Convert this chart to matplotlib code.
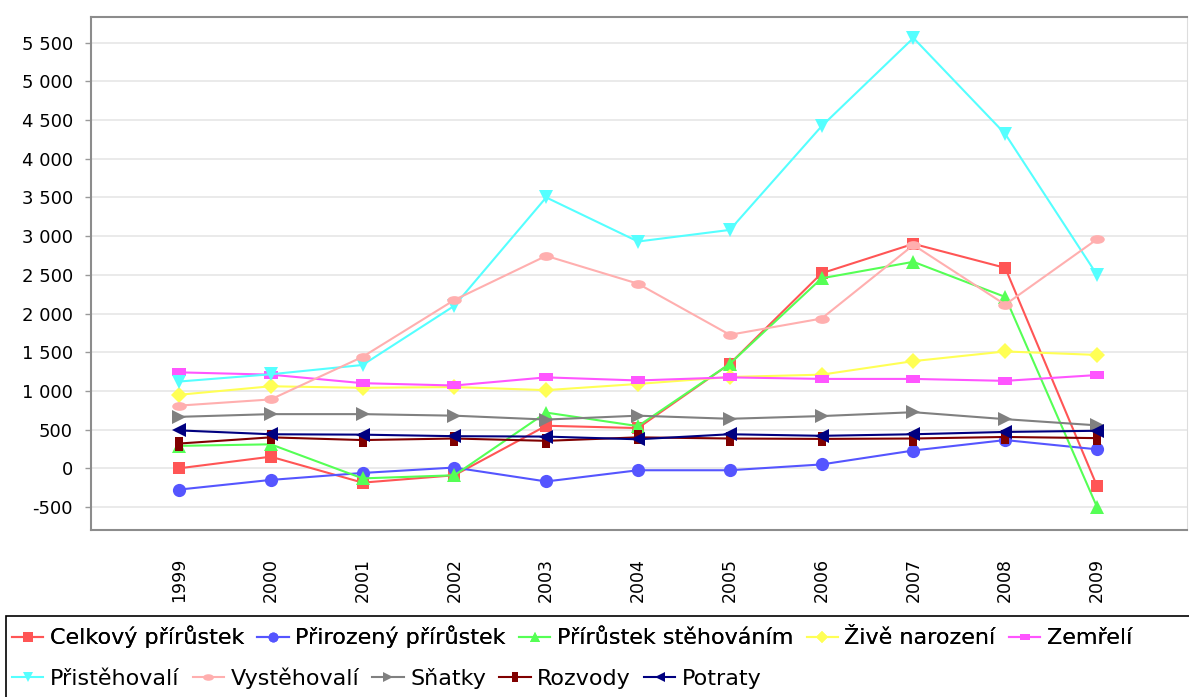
import numpy as np
import matplotlib.pyplot as plt
from matplotlib.path import Path
from matplotlib.transforms import Affine2D
from matplotlib.patches import Rectangle
from matplotlib.ticker import FuncFormatter, MultipleLocator

plt.rcParams["font.family"] = "DejaVu Sans"

years = ["1999", "2000", "2001", "2002", "2003", "2004", "2005", "2006", "2007", "2008", "2009"]

celkovy = [0, 150, -185, -90, 550, 520, 1350, 2520, 2900, 2590, -230]
prirozeny = [-275, -150, -60, 10, -170, -25, -25, 50, 230, 365, 245]
stehovanim = [290, 310, -130, -90, 720, 545, 1350, 2455, 2668, 2214, -500]
narozeni = [950, 1060, 1040, 1050, 1010, 1090, 1180, 1210, 1385, 1510, 1465]
zemreli = [1240, 1210, 1100, 1070, 1175, 1135, 1175, 1155, 1155, 1130, 1205]
pristehovali = [1121, 1215, 1335, 2100, 3500, 2930, 3080, 4420, 5560, 4320, 2500]
vystehovali = [810, 890, 1440, 2175, 2745, 2385, 1725, 1935, 2885, 2115, 2960]
snatky = [665, 700, 700, 680, 630, 680, 640, 675, 725, 635, 555]
rozvody = [320, 400, 365, 385, 355, 400, 385, 380, 385, 405, 390]
potraty = [490, 440, 435, 415, 410, 375, 440, 420, 440, 470, 485]

labels = ["Celkový přírůstek", "Přirozený přírůstek", "Přírůstek stěhováním",
          "Živě narození", "Zemřelí", "Přistěhovalí", "Vystěhovalí",
          "Sňatky", "Rozvody", "Potraty"]
series = [celkovy, prirozeny, stehovanim, narozeni, zemreli,
          pristehovali, vystehovali, snatky, rozvody, potraty]
colors = ["#ff5555", "#5555ff", "#55ff55", "#ffff55", "#ff55ff",
          "#55ffff", "#ffafaf", "#808080", "#800000", "#000080"]

# jfreechart-like shapes
hrect = [(-1, -0.5), (1, -0.5), (1, 0.5), (-1, 0.5), (-1, -0.5)]
vrect = [(-0.55, -1), (0.55, -1), (0.55, 1), (-0.55, 1), (-0.55, -1)]
ellipse = Affine2D().scale(1, 0.6).transform_path(Path.unit_circle())
markers = ["s", "o", "^", "D", hrect, "v", ellipse, ">", vrect, "<"]
msizes = [9, 9.5, 10, 8, 10.5, 10, 10.5, 10, 10.5, 10]

fig = plt.figure(figsize=(11.89, 6.97), dpi=100)
ax = fig.add_axes([91 / 1189, 1 - 530 / 697, (1187 - 91) / 1189, (530 - 17) / 697])

x = np.arange(len(years))
handles = []
for i, (lab, vals) in enumerate(zip(labels, series)):
    h, = ax.plot(x, vals, color=colors[i], lw=1.5, marker=markers[i],
                 markersize=msizes[i], markeredgewidth=0, label=lab, zorder=3 + i)
    handles.append(h)

ax.set_xlim(-0.958, 10.98)
ax.set_ylim(-797, 5831)
ax.set_xticks(x)
ax.set_xticklabels(years, rotation=90, fontsize=12.5)
ax.yaxis.set_major_locator(MultipleLocator(500))
ax.yaxis.set_major_formatter(FuncFormatter(lambda v, p: f"{int(round(v)):,}".replace(",", " ")))
ax.tick_params(axis="y", labelsize=13, length=4, width=1, color="#999999", pad=9)
ax.tick_params(axis="x", length=0, pad=20)
ax.grid(axis="y", color="#e6e6e6", lw=1.2)
ax.set_axisbelow(True)
for s in ["left", "bottom", "top"]:
    ax.spines[s].set_color("#8c8c8c")
    ax.spines[s].set_linewidth(1.5)
ax.spines["right"].set_color("#dddddd")

# legend box (flow layout, two rows)
fig.patches.append(Rectangle((6 / 1189, -0.05), 1.1, (697 - 616) / 697 + 0.05,
                             transform=fig.transFigure, fill=False, ec="black", lw=1.2))
kw = dict(loc="center left", ncol=5, frameon=False, fontsize=16, handlelength=1.4,
          handletextpad=0.3, columnspacing=0.6, borderpad=0, borderaxespad=0,
          markerscale=0.75)
leg1 = fig.legend(handles=handles[:5], bbox_to_anchor=(12 / 1189, 1 - 637 / 697), **kw)
fig.legend(handles=handles[5:], bbox_to_anchor=(12 / 1189, 1 - 678 / 697), **kw)
fig.add_artist(leg1)

plt.savefig("out.png", dpi=100)
